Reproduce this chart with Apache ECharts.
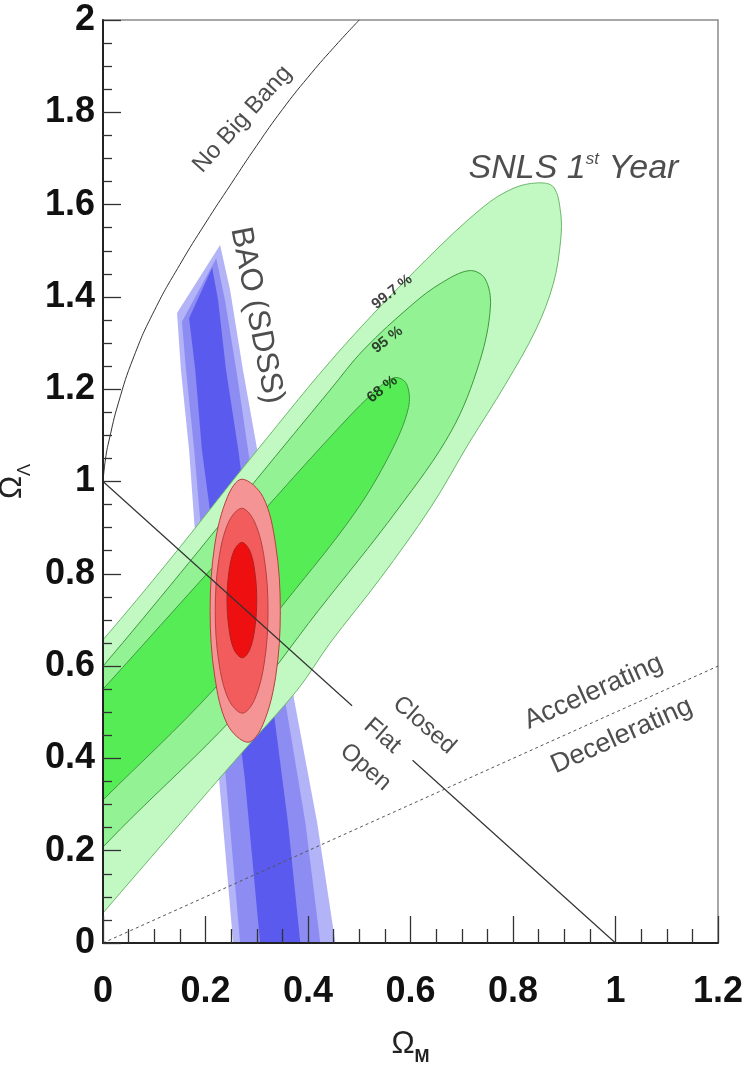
<!DOCTYPE html>
<html>
<head>
<meta charset="utf-8">
<script src="https://cdn.jsdelivr.net/npm/echarts@6/dist/echarts.min.js"></script>
<style>
  html, body { margin: 0; padding: 0; background: #fff; }
  #chart { width: 749px; height: 1065px; }
</style>
</head>
<body>
<div id="chart"></div>
<script>
// tick values
const xTicks = [0, 0.2, 0.4, 0.6, 0.8, 1, 1.2]
const yTicks = [0, 0.2, 0.4, 0.6, 0.8, 1, 1.2, 1.4, 1.6, 1.8, 2]

// SNLS 1st year contours, [Omega_M, Omega_Lambda]
const snls997 = [
  [-0.15, -0.13], [0, 0.065], [0.14, 0.245], [0.281, 0.425], [0.379, 0.548], [0.443, 0.65],
  [0.541, 0.79], [0.64, 0.945], [0.715, 1.085], [0.785, 1.21], [0.845, 1.33], [0.879, 1.43], [0.893, 1.523],
  [0.893, 1.582], [0.879, 1.638], [0.848, 1.647], [0.8, 1.635], [0.742, 1.595], [0.63, 1.48],
  [0.463, 1.285], [0.301, 1.068], [0.13, 0.83], [0, 0.657], [-0.15, 0.47]
]
const snls95 = [
  [-0.12, 0.05], [0, 0.208], [0.268, 0.505], [0.42, 0.72], [0.574, 0.938], [0.68, 1.11],
  [0.735, 1.26], [0.756, 1.38], [0.745, 1.44], [0.715, 1.457], [0.66, 1.43], [0.605, 1.385],
  [0.508, 1.285], [0.443, 1.198], [0.3, 1.005], [0.15, 0.8], [0, 0.6], [-0.12, 0.45]
]
const snls68 = [
  [-0.1, 0.2], [0, 0.31], [0.215, 0.548], [0.36, 0.745], [0.49, 0.93], [0.56, 1.06],
  [0.596, 1.16], [0.592, 1.212], [0.568, 1.225], [0.525, 1.19], [0.443, 1.096], [0.3, 0.92],
  [0.15, 0.735], [0, 0.55], [-0.1, 0.43]
]

// BAO (SDSS) bands
const bao997 = [
  [0.1445, 1.365], [0.2285, 1.5125], [0.248, 1.415], [0.273, 1.242], [0.301, 1.068], [0.33, 0.852],
  [0.373, 0.527], [0.418, 0.26], [0.4535, 0], [0.459, -0.043],
  [0.258, -0.043], [0.254, 0], [0.2266, 0.353], [0.211, 0.527], [0.189, 0.743], [0.168, 1.068], [0.152, 1.242]
]
const bao95 = [
  [0.154, 1.346], [0.221, 1.484], [0.238, 1.393], [0.26, 1.242], [0.283, 1.068], [0.3125, 0.852],
  [0.355, 0.527], [0.395, 0.26], [0.424, 0], [0.428, -0.043],
  [0.2695, -0.043], [0.2676, 0], [0.24, 0.353], [0.2246, 0.527], [0.203, 0.743], [0.178, 1.068], [0.162, 1.242]
]
const bao68 = [
  [0.168, 1.354], [0.213, 1.463], [0.2246, 1.393], [0.24, 1.242], [0.264, 1.068], [0.289, 0.852],
  [0.33, 0.527], [0.361, 0.26], [0.385, 0], [0.389, -0.043],
  [0.309, -0.043], [0.3066, 0], [0.277, 0.353], [0.258, 0.527], [0.232, 0.743], [0.193, 1.068], [0.18, 1.242]
]

// combined contours (red)
const comb997 = [
  [0.271, 1.005], [0.312, 0.967], [0.337, 0.862], [0.346, 0.72], [0.337, 0.578], [0.312, 0.473],
  [0.283, 0.435], [0.243, 0.473], [0.218, 0.578], [0.209, 0.72], [0.218, 0.862], [0.243, 0.967]
]
const comb95 = [
  [0.271, 0.942], [0.296, 0.912], [0.315, 0.831], [0.322, 0.72], [0.315, 0.609], [0.296, 0.528],
  [0.272, 0.498], [0.245, 0.528], [0.226, 0.609], [0.219, 0.72], [0.226, 0.831], [0.245, 0.912]
]
const comb68 = [
  [0.271, 0.868], [0.286, 0.851], [0.296, 0.806], [0.3, 0.743], [0.296, 0.68], [0.286, 0.635],
  [0.272, 0.618], [0.256, 0.635], [0.246, 0.68], [0.242, 0.743], [0.246, 0.806], [0.256, 0.851]
]

// reference lines
const noBigBang = [
  [0, 1.0], [0.005, 1.05], [0.012, 1.09], [0.03, 1.17], [0.06, 1.27], [0.1, 1.37], [0.15, 1.47],
  [0.2, 1.56], [0.25, 1.645], [0.3, 1.728], [0.35, 1.806], [0.4, 1.876], [0.45, 1.94], [0.5, 2.0]
]
const flatUpper = [[0, 1], [0.486, 0.514]]
const flatLower = [[0.604, 0.396], [1, 0]]
const accelLine = [[0, 0], [1.2, 0.6]]

// annotations: text, anchor [Omega_M, Omega_Lambda], angle
const notes = [
  { text: 'No Big Bang', at: [0.272, 1.785], angle: 48, size: 24 },
  { text: 'BAO (SDSS)', at: [0.3, 1.36], angle: -79, size: 31 },
  { text: '{i|SNLS 1}{s|st}{i| Year}', at: [0.918, 1.679], angle: 0, size: 34 },
  { text: '99.7 %', at: [0.564, 1.411], angle: 38, size: 15, bold: true },
  { text: '95 %', at: [0.555, 1.307], angle: 38, size: 15, bold: true },
  { text: '68 %', at: [0.545, 1.2], angle: 38, size: 15, bold: true },
  { text: 'Closed', at: [0.627, 0.472], angle: -41, size: 24 },
  { text: 'Flat', at: [0.545, 0.449], angle: -41, size: 24 },
  { text: 'Open', at: [0.512, 0.381], angle: -41, size: 24 },
  { text: 'Accelerating', at: [0.957, 0.544], angle: 24, size: 27 },
  { text: 'Decelerating', at: [1.012, 0.449], angle: 24, size: 27 }
]

const FONT = 'Liberation Sans'

function area(points, fill, stroke, z, smooth) {
  return {
    type: 'custom',
    coordinateSystem: 'cartesian2d',
    clip: true,
    silent: true,
    z: z,
    data: points,
    encode: { x: 0, y: 1 },
    renderItem: function (params, api) {
      if (params.dataIndex !== 0) return null
      return {
        type: 'polygon',
        shape: { points: points.map((p) => api.coord(p)), smooth: smooth },
        style: { fill: fill, stroke: stroke, lineWidth: stroke ? 1 : 0 },
      }
    },
  }
}

function line(points, opts) {
  return Object.assign(
    {
      type: 'line',
      data: points,
      showSymbol: false,
      symbol: 'none',
      silent: true,
      z: 6,
      lineStyle: { color: '#333', width: 1.2 },
    },
    opts
  )
}

const chart = echarts.init(document.getElementById('chart'))
chart.setOption({
  animation: false,
  backgroundColor: '#fff',
  grid: {
    left: 103,
    top: 20,
    width: 615,
    height: 923,
    outerBoundsMode: 'none',
    containLabel: false,
    show: true,
    borderColor: '#8a8a8a',
    borderWidth: 1.5,
  },
  xAxis: {
    type: 'value',
    min: xTicks[0],
    max: xTicks[xTicks.length - 1],
    interval: 0.2,
    z: 10,
    axisLine: { onZero: false, lineStyle: { color: '#222', width: 2 } },
    axisTick: { inside: true, length: 27, lineStyle: { color: '#333', width: 1.3 } },
    minorTick: { show: true, splitNumber: 4, length: 14, lineStyle: { color: '#333', width: 1.3 } },
    splitLine: { show: false },
    axisLabel: { fontFamily: FONT, fontWeight: 'bold', fontSize: 36, color: '#111', margin: 31 },
    name: '{o|Ω}{m|M}',
    nameLocation: 'middle',
    nameGap: 86,
    nameTextStyle: {
      rich: {
        o: { fontFamily: FONT, fontSize: 31, color: '#222', padding: [0, 0, 6, 0] },
        m: { fontFamily: FONT, fontSize: 18, fontWeight: 'bold', color: '#222', verticalAlign: 'bottom' },
      },
    },
  },
  yAxis: {
    type: 'value',
    min: yTicks[0],
    max: yTicks[yTicks.length - 1],
    interval: 0.2,
    z: 10,
    axisLine: { onZero: false, lineStyle: { color: '#222', width: 2 } },
    axisTick: { inside: true, length: 18, lineStyle: { color: '#333', width: 1.3 } },
    minorTick: { show: true, splitNumber: 4, length: 9, lineStyle: { color: '#333', width: 1.3 } },
    splitLine: { show: false },
    axisLabel: { fontFamily: FONT, fontWeight: 'bold', fontSize: 36, color: '#111', margin: 8 },
    name: '{o|Ω}{s|Λ}',
    nameLocation: 'middle',
    nameGap: 59,
    nameTextStyle: {
      rich: {
        o: { fontFamily: FONT, fontSize: 31, color: '#222', padding: [0, 0, 6, 0] },
        s: { fontFamily: FONT, fontSize: 18, color: '#222', verticalAlign: 'bottom' },
      },
    },
  },
  series: [
    area(bao997, '#b3b3f7', null, 1, 0),
    area(bao95, '#8c8cf3', null, 1, 0),
    area(bao68, '#5a5aef', null, 1, 0),
    area(snls997, '#c2f8c2', '#6cb86c', 2, 0.35),
    area(snls95, '#93f293', '#3f9a3f', 2, 0.35),
    area(snls68, '#56ec56', '#3f9a3f', 2, 0.35),
    area(comb997, '#f59494', '#b84040', 3, 0.35),
    area(comb95, '#f25c5c', '#b84040', 3, 0.35),
    area(comb68, '#ee1010', '#b02020', 3, 0.35),
    line(noBigBang, { smooth: true, lineStyle: { color: '#333', width: 1 } }),
    line(flatUpper),
    line(flatLower),
    line(accelLine, { lineStyle: { color: '#555', width: 1, type: [3, 3] } }),
    {
      type: 'scatter',
      silent: true,
      z: 8,
      symbolSize: 0,
      data: notes.map((n) => ({
        value: n.at,
        label: {
          show: true,
          position: 'inside',
          formatter: n.text,
          rotate: n.angle,
          fontSize: n.size,
          fontWeight: n.bold ? 'bold' : 'normal',
          fontFamily: FONT,
          color: n.bold ? '#111' : '#222',
          rich: {
            i: { fontSize: 34, fontStyle: 'italic', fontFamily: FONT, color: '#222' },
            s: { fontSize: 17, fontStyle: 'italic', fontFamily: FONT, color: '#222', verticalAlign: 'top' },
          },
        },
      })),
    },
  ],
})
</script>
</body>
</html>
